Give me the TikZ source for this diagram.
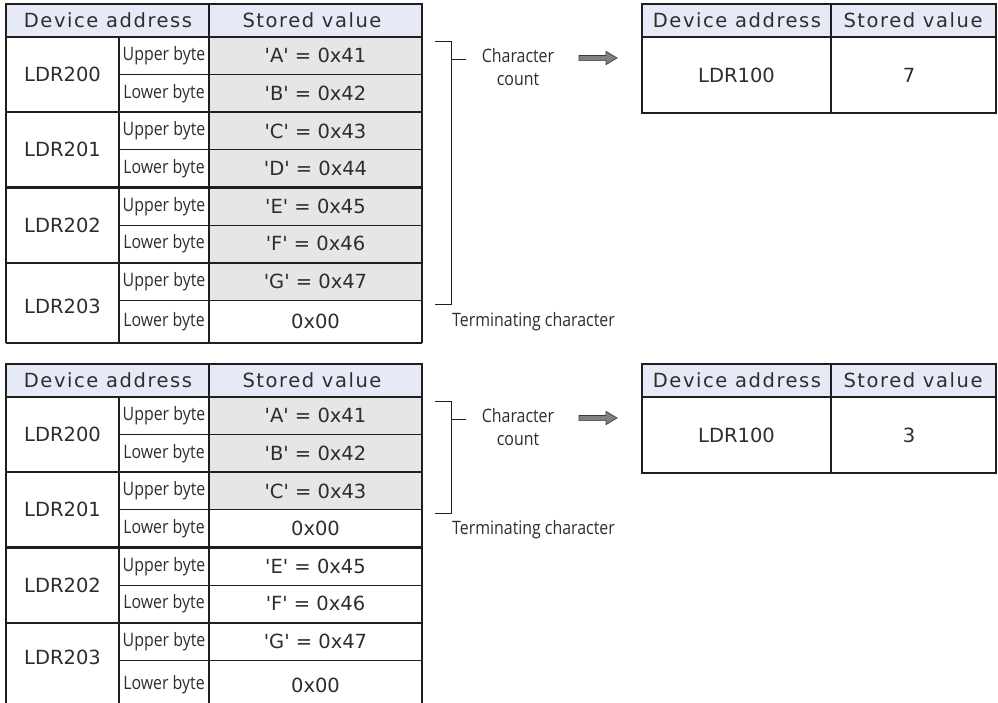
\documentclass[tikz,border=0pt]{standalone}
\usepackage{fontspec}
\newfontfamily\vfont[Ligatures=TeXOff]{DejaVu Sans}
\newfontfamily\hfont[Ligatures=TeXOff,LetterSpace=8]{DejaVu Sans}
\newfontfamily\nfont[FakeStretch=0.86]{Open Sans}
\definecolor{hdr}{RGB}{229,234,246}
\definecolor{cgray}{RGB}{230,230,230}
\definecolor{ln}{RGB}{30,30,30}
\definecolor{txt}{RGB}{45,45,45}
\definecolor{arrfill}{RGB}{128,128,128}
\definecolor{arrline}{RGB}{60,60,60}

\newcommand\mytable[7]{% #1 name, #2 yoff, #3 ngray, #4 values, #5 bottom y, #6 LDR203 y, #7 draw bottom (1/0)
\begin{scope}[shift={(0,#2)}]
  \fill[hdr] (6,4) rectangle (422,37);
  \foreach \v [count=\i from 0] in {#4} {
    \pgfmathsetmacro\ta{37+37.6*\i}
    \pgfmathsetmacro\tb{ifthenelse(\i==7,#5,37+37.6*(\i+1))}
    \ifnum\i<#3 \fill[cgray] (209,\ta) rectangle (422,\tb); \fi
    \node[vtxt] (#1-v\i) at (315.5,{(\ta+\tb)/2}) {\v};
    \ifodd\i
      \node[ntxt] (#1-b\i) at (164,{(\ta+\tb)/2}) {Lower byte};
    \else
      \node[ntxt] (#1-b\i) at (164,{(\ta+\tb)/2}) {Upper byte};
    \fi
  }
  \foreach \i in {0,...,6} {
    \pgfmathsetmacro\tb{37+37.6*(\i+1)}
    \ifodd\i \draw[thk] (6,\tb) -- (422,\tb); \else \draw[thn] (119,\tb) -- (422,\tb); \fi
  }
  \foreach \k/\n in {0/LDR200,1/LDR201,2/LDR202} {
    \node[vtxt] (#1-d\k) at (62.5,{37+37.6*(2*\k+1)}) {\n};
  }
  \node[vtxt] (#1-d3) at (62.5,#6) {LDR203};
  \node[htxt] (#1-h1) at (108,20.5) {Device address};
  \node[htxt] (#1-h2) at (312,20.5) {Stored value};
  \draw[thk] (6,#5) -- (6,4) -- (422,4) -- (422,#5);
  \ifnum#7=1 \draw[thk] (6,#5) -- (422,#5); \fi
  \draw[thk] (6,37) -- (422,37);
  \draw[thk] (209,4) -- (209,#5);
  \draw[thm] (119,37) -- (119,#5);
\end{scope}
}

\newcommand\rtable[3]{% #1 name, #2 yoff, #3 value
\begin{scope}[shift={(0,#2)}]
  \fill[hdr] (642,4) rectangle (996,37);
  \draw[thk] (642,4) rectangle (996,113);
  \draw[thk] (642,37) -- (996,37);
  \draw[thk] (831,4) -- (831,113);
  \node[htxt] (#1-h1) at (737,20.5) {Device address};
  \node[htxt] (#1-h2) at (913,20.5) {Stored value};
  \node[vtxt] (#1-a) at (736.5,75) {LDR100};
  \node[vtxt] (#1-v) at (909,75) {#3};
\end{scope}
}

% fat block arrow starting at a named coordinate
\newcommand\fatarrow[1]{%
  \filldraw[draw=arrline, fill=arrfill, line width=0.7pt, line join=miter]
    (#1) ++(0,-2.6) -- ++(27,0) -- ++(0,-4) -- ++(11,6.6) -- ++(-11,6.6)
    -- ++(0,-4) -- ++(-27,0) -- cycle;
}

\begin{document}
\begin{tikzpicture}[x=1pt,y=-1pt,
  thk/.style={line width=2.2pt, draw=ln},
  thm/.style={line width=1.5pt, draw=ln},
  thn/.style={line width=1pt, draw=ln},
  brk/.style={line width=1pt, draw=ln},
  vtxt/.style={font=\vfont\fontsize{19.5}{20}\selectfont, text=txt, inner sep=0pt},
  htxt/.style={font=\hfont\fontsize{19.5}{20}\selectfont, text=txt, inner sep=0pt},
  ntxt/.style={font=\nfont\fontsize{18.5}{23}\selectfont, text=txt, inner sep=0pt}]
\useasboundingbox (0,0) rectangle (998,702);
\clip (0,0) rectangle (998,702);

% ---------- upper example ----------
\mytable{A}{0}{7}{{'A' = 0x41},{'B' = 0x42},{'C' = 0x43},{'D' = 0x44},{'E' = 0x45},{'F' = 0x46},{'G' = 0x47},{0x00}}{343}{306}{1}
\rtable{RA}{0}{7}
\coordinate (A-bt) at (435,41);
\coordinate (A-br) at (451,41);
\coordinate (A-brb) at (451,304);
\coordinate (A-bb) at (435,304);
\coordinate (A-tk) at (451,59);
\coordinate (A-tke) at (466,59);
\draw[brk] (A-bt) -- (A-br) -- (A-brb) -- (A-bb);
\draw[brk] (A-tk) -- (A-tke);
\node[ntxt, align=center] (A-cc) at (518,67) {Character\\count};
\coordinate (A-ar) at (579,58);
\fatarrow{A-ar}
\node[ntxt, anchor=west] (A-tc) at (452,322) {Terminating character};

% ---------- lower example ----------
\mytable{B}{360}{3}{{'A' = 0x41},{'B' = 0x42},{'C' = 0x43},{0x00},{'E' = 0x45},{'F' = 0x46},{'G' = 0x47},{0x00}}{350}{297}{0}
\rtable{RB}{360}{3}
\coordinate (B-bt) at (435,401);
\coordinate (B-br) at (451,401);
\coordinate (B-brb) at (451,513);
\coordinate (B-bb) at (435,513);
\coordinate (B-tk) at (451,419);
\coordinate (B-tke) at (466,419);
\draw[brk] (B-bt) -- (B-br) -- (B-brb) -- (B-bb);
\draw[brk] (B-tk) -- (B-tke);
\node[ntxt, align=center] (B-cc) at (518,427) {Character\\count};
\coordinate (B-ar) at (579,418);
\fatarrow{B-ar}
\node[ntxt, anchor=west] (B-tc) at (452,530) {Terminating character};
\end{tikzpicture}
\end{document}
